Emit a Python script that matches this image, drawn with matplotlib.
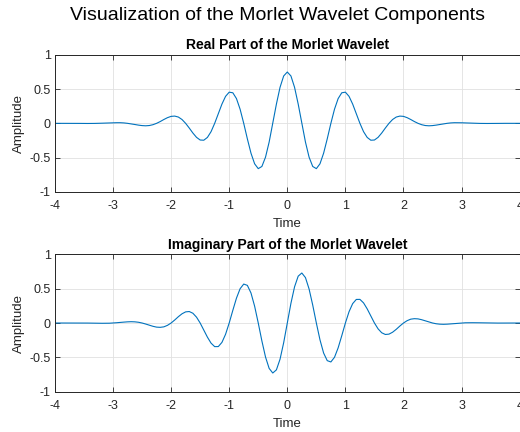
#!/usr/bin/python3

import numpy as np
import matplotlib
matplotlib.use("Agg")
import matplotlib.pyplot as plt

#time samples, step 1/16 from -4 to 4
time = np.linspace(-4, 4, 129)

#real part
real_part = [
    0.000, 0.000, 0.000, 0.000, 0.000, 0.000, -0.001, -0.001,
    -0.002, -0.002, -0.002, -0.001, 0.000, 0.002, 0.004, 0.006,
    0.008, 0.009, 0.009, 0.006, 0.000, -0.008, -0.017, -0.026,
    -0.033, -0.036, -0.032, -0.020, 0.000, 0.026, 0.056, 0.083,
    0.102, 0.106, 0.092, 0.056, 0.000, -0.069, -0.142, -0.205,
    -0.244, -0.247, -0.206, -0.122, 0.000, 0.142, 0.282, 0.395,
    0.456, 0.447, 0.362, 0.207, 0.000, -0.227, -0.437, -0.592,
    -0.663, -0.631, -0.495, -0.274, 0.000, 0.282, 0.527, 0.693,
    0.751,
    0.693, 0.527, 0.282, 0.000, -0.274, -0.495, -0.631, -0.663,
    -0.592, -0.437, -0.227, 0.000, 0.207, 0.362, 0.447, 0.456,
    0.395, 0.282, 0.142, 0.000, -0.122, -0.206, -0.247, -0.244,
    -0.205, -0.142, -0.069, 0.000, 0.056, 0.092, 0.106, 0.102,
    0.083, 0.056, 0.026, 0.000, -0.020, -0.032, -0.036, -0.033,
    -0.026, -0.017, -0.008, 0.000, 0.006, 0.009, 0.009, 0.008,
    0.006, 0.004, 0.002, 0.000, -0.001, -0.002, -0.002, -0.002,
    -0.001, -0.001, 0.000, 0.000, 0.000, 0.000, 0.000, 0.000,
]

#imaginary part
imag_part = [
    0.000, 0.000, 0.000, 0.000, 0.001, 0.001, 0.001, 0.001,
    0.000, -0.001, -0.002, -0.003, -0.004, -0.004, -0.004, -0.003,
    0.000, 0.004, 0.009, 0.013, 0.017, 0.019, 0.017, 0.011,
    0.000, -0.015, -0.032, -0.048, -0.060, -0.063, -0.056, -0.034,
    0.000, 0.044, 0.092, 0.134, 0.162, 0.167, 0.142, 0.085,
    0.000, -0.102, -0.206, -0.293, -0.344, -0.343, -0.282, -0.164,
    0.000, 0.185, 0.362, 0.499, 0.567, 0.548, 0.437, 0.245,
    0.000, -0.261, -0.495, -0.661, -0.728, -0.682, -0.527, -0.287,
    0.000,
    0.287, 0.527, 0.682, 0.728, 0.661, 0.495, 0.261, 0.000,
    -0.245, -0.437, -0.548, -0.567, -0.499, -0.362, -0.185, 0.000,
    0.164, 0.282, 0.343, 0.344, 0.293, 0.206, 0.102, 0.000,
    -0.085, -0.142, -0.167, -0.162, -0.134, -0.092, -0.044, 0.000,
    0.034, 0.056, 0.063, 0.060, 0.048, 0.032, 0.015, 0.000,
    -0.011, -0.017, -0.019, -0.017, -0.013, -0.009, -0.004, 0.000,
    0.003, 0.004, 0.004, 0.004, 0.003, 0.002, 0.001, 0.000,
    -0.001, -0.001, -0.001, -0.001, 0.000, 0.000, 0.000, 0.000,
]

xticks = [-4, -3, -2, -1, 0, 1, 2, 3, 4]
yticks = [-1, -0.5, 0, 0.5, 1]
ytick_labels = ["-1", "-0.5", "0", "0.5", "1"]

titles = ["Real Part of the Morlet Wavelet", "Imaginary Part of the Morlet Wavelet"]
suptitle = "Visualization of the Morlet Wavelet Components"

#_____________________________________________________________________________
def main():

    plt.rcParams["font.family"] = ["Liberation Sans", "DejaVu Sans"]
    plt.rcParams["axes.unicode_minus"] = False

    fig = plt.figure(figsize=(5.2, 4.32), dpi=100)

    ax_top = fig.add_axes([0.1056, 0.5563, 0.8938, 0.3164])
    ax_bot = fig.add_axes([0.1056, 0.0933, 0.8938, 0.3180])

    draw_panel(ax_top, real_part, titles[0])
    draw_panel(ax_bot, imag_part, titles[1])

    fig.text(0.533, 0.965, suptitle, ha="center", va="center", fontsize=14, color="black")

    fig.savefig("out.png", dpi=100)
    plt.close()

#main

#_____________________________________________________________________________
def draw_panel(ax, val, title):

    col = "#262626"

    ax.plot(time, val, color="#0072BD", lw=0.8)

    ax.set_xlim(-4, 4)
    ax.set_ylim(-1, 1)
    ax.set_xticks(xticks)
    ax.set_xticklabels([str(i) for i in xticks])
    ax.set_yticks(yticks)
    ax.set_yticklabels(ytick_labels)

    ax.grid(True, color="#e1e1e1", lw=0.6)
    ax.set_axisbelow(True)

    ax.tick_params(direction="in", length=3.5, width=0.6, colors=col,
                   top=True, right=True, labelsize=9)
    ax.tick_params(axis="x", pad=6)
    ax.tick_params(axis="y", pad=3)
    for sp in ax.spines.values():
        sp.set_color(col)
        sp.set_linewidth(0.7)

    ax.set_title(title, fontsize=10, fontweight="bold", color="black", pad=4)
    ax.set_xlabel("Time", fontsize=9.5, color=col, labelpad=4)
    ax.set_ylabel("Amplitude", fontsize=9.5, color=col, labelpad=3)

#draw_panel

#_____________________________________________________________________________
if __name__ == "__main__":

    main()
